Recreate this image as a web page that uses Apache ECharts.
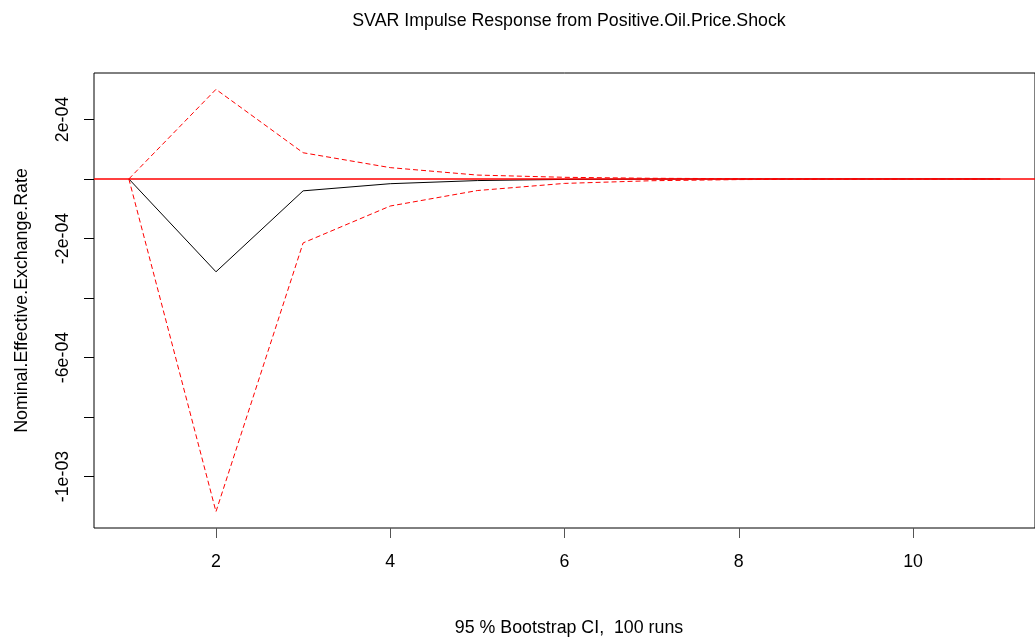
<!DOCTYPE html>
<html>
<head>
<meta charset="utf-8">
<title>SVAR Impulse Response</title>
<script src="https://cdn.jsdelivr.net/npm/echarts@6/dist/echarts.min.js"></script>
<style>
  html, body { margin: 0; padding: 0; background: #fff; }
  #chart { width: 1035px; height: 639px; }
</style>
</head>
<body>
<div id="chart"></div>
<script>
// Horizon steps of the impulse response
const steps = [1, 2, 3, 4, 5, 6, 7, 8, 9, 10, 11];
// Point estimate of the response of the exchange rate
const irf = [0, -3.12e-4, -4.0e-5, -1.6e-5, -5.5e-6, -1.6e-6, -5e-7, -2e-7, -8e-8, -3e-8, -1e-8];
// Bootstrap confidence bands (95 %, 100 runs)
const upper = [0, 3.01e-4, 8.8e-5, 3.8e-5, 1.3e-5, 5.5e-6, 2.2e-6, 9e-7, 4e-7, 1.5e-7, 6e-8];
const lower = [0, -1.118e-3, -2.15e-4, -9.1e-5, -3.9e-5, -1.5e-5, -6e-6, -2.2e-6, -9e-7, -4e-7, -1.5e-7];
// Horizontal reference line at zero, spanning the x range
const zeroLineX = [0.6, 11.4];
const zeroLineY = [0, 0];
// Axis ticks and the labels that are printed
const xTicks = [2, 4, 6, 8, 10];
const yTicks = [-1e-3, -8e-4, -6e-4, -4e-4, -2e-4, 0, 2e-4];
const yLabelValues = [-1e-3, -6e-4, -2e-4, 2e-4];
const yLabelText = { '-0.001': '-1e-03', '-0.0006': '-6e-04', '-0.0002': '-2e-04', '0.0002': '2e-04' };

const FONT = 'Liberation Sans, Arial, sans-serif';
const FS = 17.8;

const pairs = (xs, ys) => xs.map((s, i) => [s, ys[i]]);

const chart = echarts.init(document.getElementById('chart'), null, { renderer: 'canvas' });
chart.setOption({
  animation: false,
  backgroundColor: '#ffffff',
  title: [
    {
      text: 'SVAR Impulse Response from Positive.Oil.Price.Shock',
      left: 564, top: 7, textAlign: 'center',
      textStyle: { fontFamily: FONT, fontSize: FS, fontWeight: 'normal', color: '#000' }
    },
    {
      text: '95 % Bootstrap CI,  100 runs',
      left: 564, top: 614, textAlign: 'center',
      textStyle: { fontFamily: FONT, fontSize: FS, fontWeight: 'normal', color: '#000' }
    }
  ],
  grid: {
    left: 94, top: 73, right: -9, bottom: 111,
    show: true, borderColor: '#000', borderWidth: 1, backgroundColor: 'transparent'
  },
  xAxis: {
    type: 'value', min: 0.6, max: 11.4,
    axisLine: { show: false, onZero: false },
    splitLine: { show: false },
    axisTick: { show: true, length: 10, customValues: xTicks, lineStyle: { color: '#555' } },
    axisLabel: {
      customValues: xTicks, margin: 25,
      fontFamily: FONT, fontSize: FS, color: '#000'
    }
  },
  yAxis: {
    type: 'value', min: -1.173e-3, max: 3.56e-4,
    name: 'Nominal.Effective.Exchange.Rate',
    nameLocation: 'middle', nameGap: 63, nameRotate: 90,
    nameTextStyle: { fontFamily: FONT, fontSize: FS, color: '#000' },
    axisLine: { show: false, onZero: false },
    splitLine: { show: false },
    axisTick: { show: true, length: 10, customValues: yTicks, lineStyle: { color: '#000' } },
    axisLabel: {
      customValues: yLabelValues, rotate: 90, margin: 22,
      fontFamily: FONT, fontSize: FS, color: '#000',
      formatter: v => yLabelText[String(v)] || ''
    }
  },
  series: [
    {
      name: 'irf', type: 'line', data: pairs(steps, irf),
      symbol: 'none', z: 3,
      lineStyle: { color: '#000', width: 1 }
    },
    {
      name: 'upper', type: 'line', data: pairs(steps, upper),
      symbol: 'none', z: 4,
      lineStyle: { color: '#ff0000', width: 1, type: [5, 3] }
    },
    {
      name: 'lower', type: 'line', data: pairs(steps, lower),
      symbol: 'none', z: 4,
      lineStyle: { color: '#ff0000', width: 1, type: [5, 3] }
    },
    {
      // zero line sits on its own layer, over the response curves
      name: 'zero', type: 'line', data: pairs(zeroLineX, zeroLineY),
      symbol: 'none', zlevel: 1, z: 5, silent: true,
      lineStyle: { color: '#ff0000', width: 1.6 }
    }
  ]
});
</script>
</body>
</html>
